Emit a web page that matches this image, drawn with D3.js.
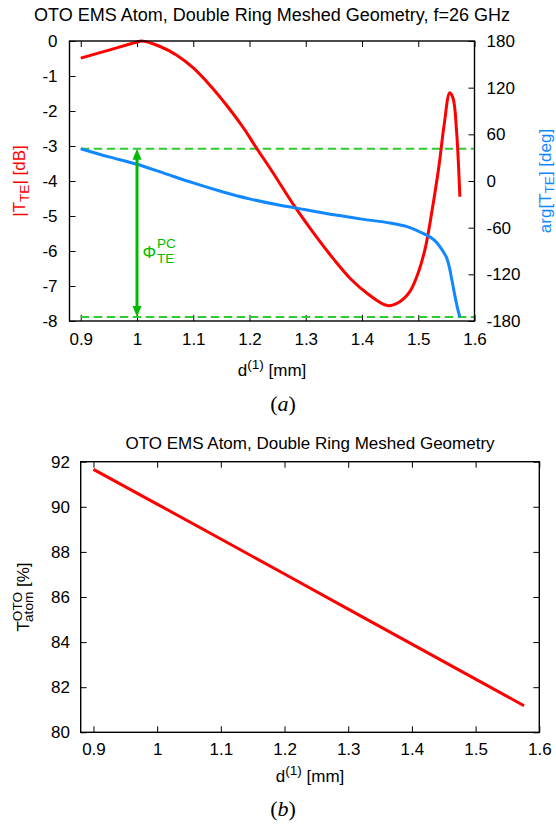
<!DOCTYPE html>
<html>
<head>
<meta charset="utf-8">
<script src="https://cdn.jsdelivr.net/npm/d3@7"></script>
<style>
    body { margin: 0; background: #fff; }
    svg text { font-family: "Liberation Sans", Arial, Helvetica, sans-serif; }
    .serif { font-family: "Liberation Serif", "Times New Roman", serif; }
</style>
</head>
<body>
<div id="chart"></div>
<script>
// |T_TE| vs d(1) at 26 GHz
var d_mag = [0.90, 0.95, 1.00, 1.008, 1.04, 1.07, 1.10, 1.13, 1.16, 1.19, 1.21, 1.24, 1.28, 1.32, 1.35, 1.38, 1.41, 1.445, 1.465, 1.485, 1.50, 1.513, 1.525, 1.537, 1.546, 1.556, 1.562, 1.568, 1.574];
var t_te_db = [-0.49, -0.26, -0.03, 0.0, -0.15, -0.40, -0.77, -1.27, -1.85, -2.50, -3.00, -3.72, -4.72, -5.62, -6.24, -6.80, -7.22, -7.56, -7.47, -7.16, -6.62, -5.88, -4.80, -3.55, -2.40, -1.48, -1.64, -2.55, -4.45];

// arg(T_TE) vs d(1)
var d_phase = [0.90, 0.95, 1.00, 1.05, 1.10, 1.15, 1.20, 1.25, 1.30, 1.35, 1.40, 1.45, 1.48, 1.50, 1.52, 1.53, 1.54, 1.55, 1.555, 1.56, 1.565, 1.57, 1.574];
var arg_te_deg = [41.5, 31, 21.5, 9.5, -2.5, -13.5, -23, -30.5, -37, -43.5, -49, -54, -58.7, -64.5, -71.5, -77, -86, -98, -110, -128, -147, -164, -175];

// atom transmittance vs d(1)
var d_atom = [0.90, 1.00, 1.10, 1.20, 1.30, 1.40, 1.50, 1.576];
var t_atom = [91.66, 90.12, 88.57, 87.02, 85.46, 83.91, 82.36, 81.18];

var x_ticks = [0.9, 1, 1.1, 1.2, 1.3, 1.4, 1.5, 1.6];
var db_ticks = [0, -1, -2, -3, -4, -5, -6, -7, -8];
var deg_ticks = [180, 120, 60, 0, -60, -120, -180];
var atom_ticks = [80, 82, 84, 86, 88, 90, 92];

var FS = 17;
var red = "#ff0000", blue = "#1188ff", green = "#00bb00", dashGreen = "#2ecc2e";

var svg = d3.select("#chart").append("svg").attr("width", 556).attr("height", 829);

function fmt(d) { return String(d); }

function style_axis(g) {
    g.select(".domain").remove();
    g.selectAll(".tick line").attr("stroke", "#000").attr("stroke-width", 1);
    g.selectAll("text").attr("font-size", FS).attr("fill", "#000").attr("font-family", null);
}

function draw_top() {
    var left = 69.5, right = 474.5, top = 41, bottom = 321;

    var x = d3.scaleLinear().domain([0.88, 1.6]).range([left, right]);
    var y = d3.scaleLinear().domain([-8, 0]).range([bottom, top]);
    var y2 = d3.scaleLinear().domain([-180, 180]).range([bottom, top]);

    var g = svg.append("g");

    g.append("text")
        .attr("x", (left + right) / 2).attr("y", 20.5)
        .attr("text-anchor", "middle").attr("font-size", 18)
        .text("OTO EMS Atom, Double Ring Meshed Geometry, f=26 GHz");

    g.append("g").attr("transform", "translate(0," + bottom + ")")
        .call(d3.axisBottom(x).tickValues(x_ticks).tickFormat(fmt).tickSize(-6).tickPadding(12))
        .call(style_axis);
    g.append("g").attr("transform", "translate(0," + top + ")")
        .call(d3.axisTop(x).tickValues(x_ticks).tickFormat("").tickSize(-6))
        .call(style_axis);
    g.append("g").attr("transform", "translate(" + left + ",0)")
        .call(d3.axisLeft(y).tickValues(db_ticks).tickFormat(fmt).tickSize(-6).tickPadding(12))
        .call(style_axis);
    g.append("g").attr("transform", "translate(" + right + ",0)")
        .call(d3.axisRight(y2).tickValues(deg_ticks).tickFormat(fmt).tickSize(-6).tickPadding(12))
        .call(style_axis);

    // dashed limits at the phase extremes
    var phMax = d3.max(arg_te_deg), phMin = d3.min(arg_te_deg);
    [phMax, phMin].forEach(function (v) {
        g.append("line")
            .attr("x1", x(0.9)).attr("x2", right)
            .attr("y1", y2(v)).attr("y2", y2(v))
            .attr("stroke", dashGreen).attr("stroke-width", 2)
            .attr("stroke-dasharray", "8.5,4.5");
    });

    var magLine = d3.line()
        .x(function (d, i) { return x(d_mag[i]); })
        .y(function (d) { return y(d); })
        .curve(d3.curveCatmullRom.alpha(0.5));
    g.append("path").datum(t_te_db)
        .attr("d", magLine)
        .attr("fill", "none").attr("stroke", red).attr("stroke-width", 3);

    var phLine = d3.line()
        .x(function (d, i) { return x(d_phase[i]); })
        .y(function (d) { return y2(d); })
        .curve(d3.curveCatmullRom.alpha(0.5));
    g.append("path").datum(arg_te_deg)
        .attr("d", phLine)
        .attr("fill", "none").attr("stroke", blue).attr("stroke-width", 3);

    // phase-change arrow at d = 1 mm
    var ax = x(1), ay1 = y2(phMax), ay2 = y2(phMin), hl = 11, hw = 4.5;
    g.append("line")
        .attr("x1", ax).attr("x2", ax)
        .attr("y1", ay1 + hl - 1).attr("y2", ay2 - hl + 1)
        .attr("stroke", green).attr("stroke-width", 3);
    g.append("path")
        .attr("d", "M" + ax + "," + ay1 + "L" + (ax - hw) + "," + (ay1 + hl) + "L" + (ax + hw) + "," + (ay1 + hl) + "Z")
        .attr("fill", green);
    g.append("path")
        .attr("d", "M" + ax + "," + ay2 + "L" + (ax - hw) + "," + (ay2 - hl) + "L" + (ax + hw) + "," + (ay2 - hl) + "Z")
        .attr("fill", green);

    g.append("text").attr("x", 142.5).attr("y", 257.5).attr("font-size", FS).attr("fill", green).text("Φ");
    g.append("text").attr("x", 157).attr("y", 248).attr("font-size", FS * 0.8).attr("fill", green).text("PC");
    g.append("text").attr("x", 157).attr("y", 263).attr("font-size", FS * 0.8).attr("fill", green).text("TE");

    g.append("rect")
        .attr("x", left).attr("y", top)
        .attr("width", right - left).attr("height", bottom - top)
        .attr("fill", "none").attr("stroke", "#000").attr("stroke-width", 1.4);

    // axis titles
    var yl = g.append("text")
        .attr("transform", "translate(25," + (top + bottom) / 2 + ") rotate(-90)")
        .attr("text-anchor", "middle").attr("font-size", FS).attr("fill", red);
    yl.append("tspan").text("|T");
    yl.append("tspan").attr("font-size", FS * 0.8).attr("dy", 4).text("TE");
    yl.append("tspan").attr("dy", -4).text("| [dB]");

    var yr = g.append("text")
        .attr("transform", "translate(551," + (top + bottom) / 2 + ") rotate(-90)")
        .attr("text-anchor", "middle").attr("font-size", FS).attr("fill", blue);
    yr.append("tspan").text("arg[T");
    yr.append("tspan").attr("font-size", FS * 0.8).attr("dy", 3).text("TE");
    yr.append("tspan").attr("dy", -3).text("] [deg]");

    var xl = g.append("text")
        .attr("x", (left + right) / 2).attr("y", 376)
        .attr("text-anchor", "middle").attr("font-size", FS);
    xl.append("tspan").text("d");
    xl.append("tspan").attr("font-size", FS * 0.8).attr("dy", -7).text("(1)");
    xl.append("tspan").attr("dy", 7).text(" [mm]");

    var cap = g.append("text").attr("class", "serif")
        .attr("x", 283).attr("y", 411).attr("text-anchor", "middle").attr("font-size", 22);
    cap.append("tspan").text("(");
    cap.append("tspan").attr("font-style", "italic").text("a");
    cap.append("tspan").text(")");
}

function draw_bottom() {
    var left = 80.7, right = 539.3, top = 461.7, bottom = 732.3;

    var x = d3.scaleLinear().domain([0.88, 1.6]).range([left, right]);
    var y = d3.scaleLinear().domain([80, 92]).range([bottom, top]);

    var g = svg.append("g");

    g.append("text")
        .attr("x", (left + right) / 2).attr("y", 449)
        .attr("text-anchor", "middle").attr("font-size", FS)
        .text("OTO EMS Atom, Double Ring Meshed Geometry");

    g.append("g").attr("transform", "translate(0," + bottom + ")")
        .call(d3.axisBottom(x).tickValues(x_ticks).tickFormat(fmt).tickSize(-6).tickPadding(10.7))
        .call(style_axis);
    g.append("g").attr("transform", "translate(0," + top + ")")
        .call(d3.axisTop(x).tickValues(x_ticks).tickFormat("").tickSize(-6))
        .call(style_axis);
    g.append("g").attr("transform", "translate(" + left + ",0)")
        .call(d3.axisLeft(y).tickValues(atom_ticks).tickFormat(fmt).tickSize(-6).tickPadding(10.7))
        .call(style_axis);
    g.append("g").attr("transform", "translate(" + right + ",0)")
        .call(d3.axisRight(y).tickValues(atom_ticks).tickFormat("").tickSize(-6))
        .call(style_axis);

    var line = d3.line()
        .x(function (d, i) { return x(d_atom[i]); })
        .y(function (d) { return y(d); });
    g.append("path").datum(t_atom)
        .attr("d", line)
        .attr("fill", "none").attr("stroke", red).attr("stroke-width", 3);

    g.append("rect")
        .attr("x", left).attr("y", top)
        .attr("width", right - left).attr("height", bottom - top)
        .attr("fill", "none").attr("stroke", "#000").attr("stroke-width", 1.4);

    var yl = g.append("text")
        .attr("transform", "translate(29," + (top + bottom) / 2 + ") rotate(-90)")
        .attr("text-anchor", "middle").attr("font-size", FS);
    yl.append("tspan").text("T");
    yl.append("tspan").attr("font-size", FS * 0.8).attr("dy", -7).text("OTO");
    yl.append("tspan").attr("font-size", FS * 0.8).attr("dx", -30).attr("dy", 11).text("atom");
    yl.append("tspan").attr("dy", -4).text(" [%]");

    var xl = g.append("text")
        .attr("x", (left + right) / 2).attr("y", 782)
        .attr("text-anchor", "middle").attr("font-size", FS);
    xl.append("tspan").text("d");
    xl.append("tspan").attr("font-size", FS * 0.8).attr("dy", -7).text("(1)");
    xl.append("tspan").attr("dy", 7).text(" [mm]");

    var cap = g.append("text").attr("class", "serif")
        .attr("x", 283).attr("y", 816).attr("text-anchor", "middle").attr("font-size", 22);
    cap.append("tspan").text("(");
    cap.append("tspan").attr("font-style", "italic").text("b");
    cap.append("tspan").text(")");
}

draw_top();
draw_bottom();
</script>
</body>
</html>
